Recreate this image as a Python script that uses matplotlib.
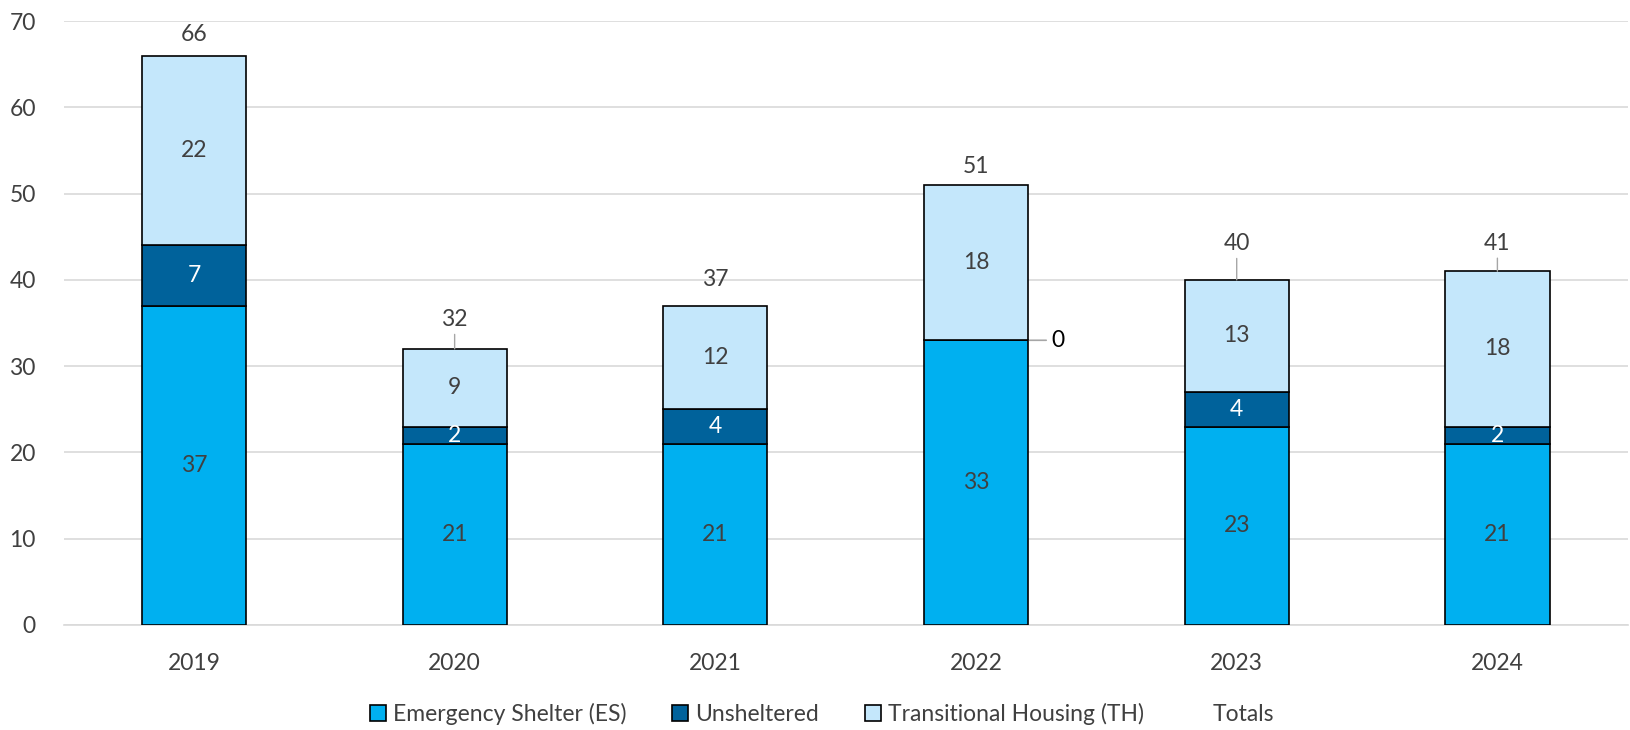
import matplotlib
matplotlib.use("Agg")
import matplotlib.pyplot as plt
from matplotlib.patches import Patch
import numpy as np

plt.rcParams['font.family'] = ['Lato', 'DejaVu Sans']

years = ["2019", "2020", "2021", "2022", "2023", "2024"]
es = [37, 21, 21, 33, 23, 21]
unsheltered = [7, 2, 4, 0, 4, 2]
th = [22, 9, 12, 18, 13, 18]
totals = [66, 32, 37, 51, 40, 41]

c_es = "#00B0F0"
c_un = "#00629B"
c_th = "#C4E7FB"
txt = "#404040"

fig = plt.figure(figsize=(16.31, 7.30), dpi=100)
ax = fig.add_axes([0.039, 0.144, 0.959, 0.827])

x = np.arange(len(years))
w = 0.4
kw = dict(width=w, edgecolor="black", linewidth=1.2, zorder=3)
b1 = ax.bar(x, es, color=c_es, **kw)
bottom2 = np.array(es)
b2 = ax.bar(x, unsheltered, bottom=bottom2, color=c_un, **kw)
bottom3 = bottom2 + np.array(unsheltered)
b3 = ax.bar(x, th, bottom=bottom3, color=c_th, **kw)

fs = 16.5
for i in range(len(years)):
    ax.text(x[i], es[i] / 2, str(es[i]), ha="center", va="center", fontsize=fs, color=txt, zorder=5)
    if unsheltered[i] > 0:
        ax.text(x[i], bottom2[i] + unsheltered[i] / 2, str(unsheltered[i]), ha="center", va="center",
                fontsize=fs, color="white", zorder=5)
    ax.text(x[i], bottom3[i] + th[i] / 2, str(th[i]), ha="center", va="center", fontsize=fs, color=txt, zorder=5)

# zero unsheltered label for 2022 placed at the right with leader line
for i in range(len(years)):
    if unsheltered[i] == 0:
        ax.annotate(str(unsheltered[i]), xy=(x[i] + w / 2, bottom2[i]), xytext=(17, 0),
                    textcoords="offset points", ha="left", va="center", fontsize=fs, color="black",
                    arrowprops=dict(arrowstyle="-", color="#A6A6A6", lw=1.2, shrinkA=2, shrinkB=1), zorder=5)

# totals labels
offsets = [15, 21, 19, 13, 26, 20]
leaders = [False, True, False, False, True, True]
for i in range(len(years)):
    if leaders[i]:
        ax.annotate(str(totals[i]), xy=(x[i], totals[i]), xytext=(0, offsets[i]),
                    textcoords="offset points", ha="center", va="center", fontsize=fs, color=txt,
                    arrowprops=dict(arrowstyle="-", color="#A6A6A6", lw=1.0, shrinkA=1, shrinkB=0), zorder=5)
    else:
        ax.annotate(str(totals[i]), xy=(x[i], totals[i]), xytext=(0, offsets[i]),
                    textcoords="offset points", ha="center", va="center", fontsize=fs, color=txt, zorder=5)

ax.set_ylim(0, 70)
ax.set_xlim(-0.5, len(years) - 0.5)
ax.set_yticks(range(0, 71, 10))
ax.set_xticks(x)
ax.set_xticklabels(years)
ax.tick_params(axis="both", length=0, labelsize=fs, labelcolor=txt)
ax.tick_params(axis="x", pad=20)
ax.tick_params(axis="y", pad=20)
ax.grid(axis="y", color="#D9D9D9", linewidth=1.2, zorder=0)
for s in ["top", "right", "left"]:
    ax.spines[s].set_visible(False)
ax.spines["bottom"].set_color("#D9D9D9")
ax.spines["bottom"].set_linewidth(1.2)

handles = [Patch(facecolor=c_es, edgecolor="black", linewidth=1.2),
           Patch(facecolor=c_un, edgecolor="black", linewidth=1.2),
           Patch(facecolor=c_th, edgecolor="black", linewidth=1.2),
           Patch(facecolor="none", edgecolor="none")]
labels = ["Emergency Shelter (ES)", "Unsheltered", "Transitional Housing (TH)", "Totals"]
fig.legend(handles, labels, loc="center", bbox_to_anchor=(0.504, 0.0215), ncol=4, frameon=False,
           fontsize=fs, labelcolor=txt, handlelength=0.7, handleheight=0.7, handletextpad=0.3,
           columnspacing=2.0)

fig.savefig("out.png", dpi=100)
